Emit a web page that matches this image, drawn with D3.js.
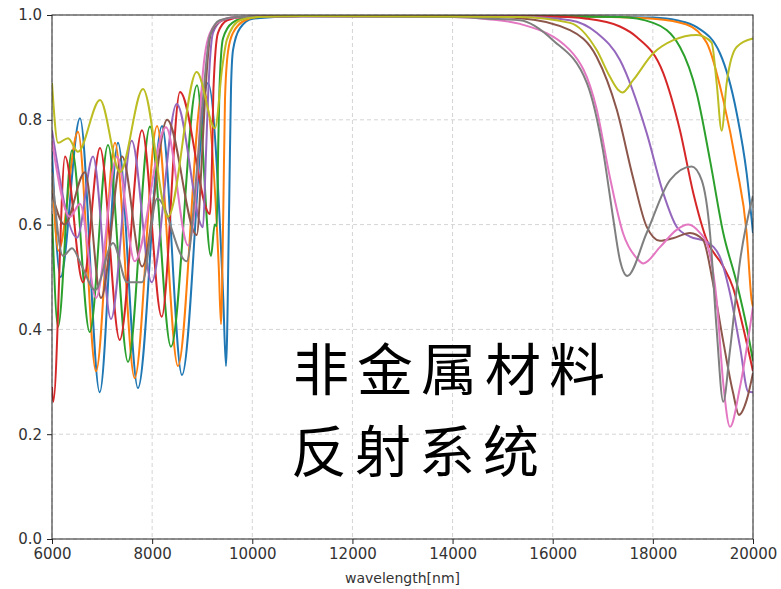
<!DOCTYPE html>
<html>
<head>
<meta charset="utf-8">
<script src="https://cdn.jsdelivr.net/npm/d3@7"></script>
<style>
  html, body { margin: 0; padding: 0; background: #fff; }
  svg { display: block; }
</style>
</head>
<body>
<svg id="chart" width="781" height="589"></svg>
<script>
// Reflectance spectra, [wavelength (nm), reflectance]
const seriesBlue = [
  [6000,0.74],[6170,0.50],[6559,0.803],[6953,0.28],[7318,0.756],[7717,0.288],[8197,0.788],[8596,0.313],
  [9115,0.87],[9420,0.46],[9475,0.33],[9540,0.65],[9575,0.86],[9615,0.933],[9755,0.975],[10014,0.993],
  [11000,0.998],[14000,0.998],[16500,0.997],[17500,0.996],[18008,0.995],[18475,0.99],[18875,0.977],
  [19340,0.927],[19674,0.813],[19873,0.698],[20000,0.584]
];
const seriesOrange = [
  [6000,0.70],[6130,0.55],[6519,0.777],[6879,0.32],[7258,0.756],[7652,0.307],[8097,0.788],[8516,0.33],
  [9015,0.86],[9330,0.52],[9375,0.41],[9420,0.62],[9455,0.84],[9515,0.93],[9615,0.966],[9855,0.99],
  [10114,0.996],[11000,0.998],[14000,0.998],[16500,0.997],[17500,0.995],[18008,0.993],[18675,0.982],
  [19075,0.947],[19406,0.838],[19674,0.71],[19873,0.584],[19973,0.456],[20000,0.443]
];
const seriesGreen = [
  [6000,0.62],[6120,0.405],[6400,0.742],[6753,0.395],[7118,0.752],[7518,0.338],[7957,0.787],[8376,0.367],
  [8896,0.866],[9175,0.54],[9250,0.60],[9290,0.597],[9320,0.75],[9345,0.86],[9415,0.955],[9600,0.985],
  [9900,0.995],[11000,0.998],[15000,0.998],[17343,0.996],[18008,0.985],[18541,0.939],[18875,0.851],
  [19141,0.723],[19406,0.584],[19674,0.489],[19873,0.405],[20000,0.34]
];
const seriesRed = [
  [6000,0.29],[6025,0.262],[6260,0.73],[6619,0.49],[6959,0.746],[7352,0.38],[7797,0.78],[8191,0.424],
  [8556,0.853],[9155,0.62],[9200,0.74],[9225,0.86],[9315,0.966],[9500,0.99],[9800,0.996],[11000,0.998],
  [15000,0.998],[16000,0.997],[16678,0.993],[17343,0.978],[17677,0.958],[18208,0.889],[18541,0.78],
  [18808,0.66],[19075,0.571],[19406,0.52],[19600,0.48],[19800,0.405],[20000,0.32]
];
const seriesPurple = [
  [6000,0.78],[6500,0.575],[6819,0.73],[7178,0.42],[7592,0.76],[7990,0.49],[8490,0.83],[9015,0.595],
  [9070,0.72],[9115,0.84],[9215,0.966],[9400,0.99],[9700,0.996],[11000,0.998],[14000,0.998],
  [15346,0.997],[16344,0.99],[16878,0.966],[17343,0.914],[17876,0.775],[18208,0.66],[18475,0.596],
  [18741,0.577],[19075,0.567],[19340,0.538],[19540,0.469],[19740,0.367],[19906,0.281],[20000,0.28]
];
const seriesBrown = [
  [6000,0.66],[6250,0.60],[6659,0.70],[6979,0.46],[7400,0.73],[7800,0.52],[8300,0.80],[8890,0.58],
  [8990,0.72],[9055,0.84],[9175,0.966],[9400,0.99],[9700,0.996],[11000,0.998],[14000,0.998],
  [15346,0.994],[16344,0.971],[16878,0.92],[17277,0.82],[17603,0.69],[17876,0.596],[18142,0.569],
  [18402,0.574],[18741,0.584],[19001,0.571],[19200,0.489],[19400,0.38],[19600,0.28],[19720,0.237],
  [19873,0.265],[20000,0.317]
];
const seriesPink = [
  [6000,0.76],[6360,0.615],[6559,0.64],[6879,0.46],[7298,0.73],[7652,0.53],[8277,0.786],[8720,0.56],
  [8916,0.72],[8976,0.84],[9116,0.955],[9300,0.985],[9600,0.995],[11000,0.997],[14000,0.996],
  [14700,0.992],[15346,0.983],[16344,0.933],[16878,0.82],[17143,0.69],[17403,0.584],[17677,0.536],
  [17809,0.526],[18142,0.557],[18475,0.59],[18707,0.60],[18941,0.584],[19075,0.565],[19274,0.456],
  [19406,0.297],[19540,0.214],[19740,0.29],[20000,0.443]
];
const seriesGray = [
  [6000,0.70],[6220,0.54],[6400,0.555],[6600,0.52],[6859,0.475],[7218,0.565],[7500,0.49],[7800,0.49],
  [8100,0.65],[8690,0.53],[8890,0.70],[9015,0.84],[9150,0.96],[9350,0.99],[9700,0.996],[11000,0.997],
  [14000,0.996],[14700,0.993],[15346,0.99],[16004,0.952],[16683,0.87],[17003,0.742],[17203,0.615],
  [17343,0.532],[17489,0.502],[17876,0.584],[18342,0.685],[18775,0.711],[18975,0.685],[19141,0.584],
  [19274,0.40],[19406,0.262],[19540,0.36],[19740,0.53],[20000,0.655]
];
const seriesOlive = [
  [6000,0.87],[6120,0.756],[6320,0.765],[6519,0.739],[6959,0.838],[7358,0.70],[7817,0.859],[8317,0.615],
  [8890,0.891],[9255,0.784],[9400,0.90],[9490,0.952],[9755,0.99],[10100,0.996],[11000,0.998],
  [14000,0.997],[15346,0.996],[16344,0.985],[16878,0.933],[17143,0.882],[17309,0.857],[17390,0.852],
  [17609,0.876],[18008,0.927],[18408,0.952],[18875,0.962],[19008,0.959],[19175,0.947],[19274,0.87],
  [19374,0.779],[19474,0.87],[19674,0.939],[20000,0.955]
];

const seriesList = [seriesBlue, seriesOrange, seriesGreen, seriesRed, seriesPurple,
                    seriesBrown, seriesPink, seriesGray, seriesOlive];
const seriesColors = ["#1f77b4","#ff7f0e","#2ca02c","#d62728","#9467bd",
                      "#8c564b","#e377c2","#7f7f7f","#bcbd22"];

const xTicks = [6000, 8000, 10000, 12000, 14000, 16000, 18000, 20000];
const yTicks = [0, 0.2, 0.4, 0.6, 0.8, 1.0];
const xLabel = "wavelength[nm]";
const titleLines = ["非金属材料", "反射系统"];

const plot = { left: 52, top: 15, right: 753, bottom: 539 };

const svg = d3.select("#chart");
const x = d3.scaleLinear().domain([6000, 20000]).range([plot.left, plot.right]);
const y = d3.scaleLinear().domain([0, 1]).range([plot.bottom, plot.top]);

// dashed grid
const grid = svg.append("g");
grid.selectAll(".gx").data(xTicks).join("line")
  .attr("x1", d => x(d)).attr("x2", d => x(d))
  .attr("y1", plot.top).attr("y2", plot.bottom)
  .attr("stroke", "#d4d4d4").attr("stroke-width", 1).attr("stroke-dasharray", "4,3");
grid.selectAll(".gy").data(yTicks).join("line")
  .attr("x1", plot.left).attr("x2", plot.right)
  .attr("y1", d => y(d)).attr("y2", d => y(d))
  .attr("stroke", "#d4d4d4").attr("stroke-width", 1).attr("stroke-dasharray", "4,3");

// overlaid text block
const title = svg.append("g")
  .attr("font-family", "'Noto Sans CJK SC', 'Noto Sans CJK JP', sans-serif")
  .attr("font-size", 56).attr("font-weight", 400)
  .attr("letter-spacing", 8).attr("fill", "#000");
title.append("text").attr("x", 293).attr("y", 390).text(titleLines[0]);
title.append("text").attr("x", 291).attr("y", 472).text(titleLines[1]);

// spectra
svg.append("clipPath").attr("id", "plotClip").append("rect")
  .attr("x", plot.left).attr("y", plot.top - 2)
  .attr("width", plot.right - plot.left).attr("height", plot.bottom - plot.top + 2);

const line = d3.line()
  .x(d => x(d[0])).y(d => y(d[1]))
  .curve(d3.curveMonotoneX);

svg.append("g").attr("clip-path", "url(#plotClip)")
  .selectAll("path").data(seriesList).join("path")
  .attr("d", line)
  .attr("fill", "none")
  .attr("stroke", (d, i) => seriesColors[i])
  .attr("stroke-width", 2)
  .attr("stroke-linejoin", "round");

// frame
svg.append("rect")
  .attr("x", plot.left).attr("y", plot.top)
  .attr("width", plot.right - plot.left).attr("height", plot.bottom - plot.top)
  .attr("fill", "none").attr("stroke", "#222").attr("stroke-width", 1);

// axes
const xAxis = svg.append("g").attr("transform", `translate(0,${plot.bottom})`)
  .call(d3.axisBottom(x).tickValues(xTicks).tickFormat(d3.format("d")).tickSize(5).tickPadding(4));
const yAxis = svg.append("g").attr("transform", `translate(${plot.left},0)`)
  .call(d3.axisLeft(y).tickValues(yTicks).tickFormat(d3.format(".1f")).tickSize(5).tickPadding(5));
[xAxis, yAxis].forEach(a => {
  a.select(".domain").remove();
  a.selectAll(".tick line").attr("stroke", "#222");
  a.selectAll(".tick text").attr("fill", "#333")
    .attr("font-family", "'DejaVu Sans', sans-serif").attr("font-size", 15);
});

svg.append("text")
  .attr("x", (plot.left + plot.right) / 2).attr("y", 583)
  .attr("text-anchor", "middle")
  .attr("font-family", "'DejaVu Sans', sans-serif").attr("font-size", 14)
  .attr("fill", "#333")
  .text(xLabel);
</script>
</body>
</html>
